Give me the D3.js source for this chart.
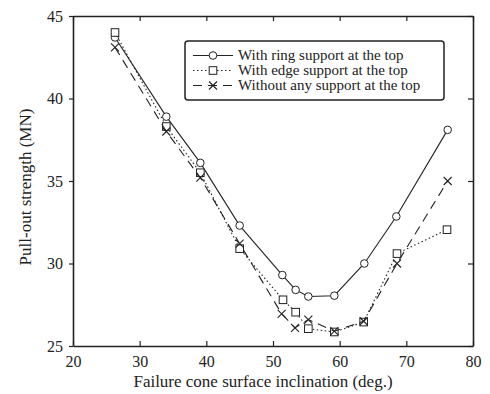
<!DOCTYPE html>
<html>
<head>
<meta charset="utf-8">
<script src="https://cdn.jsdelivr.net/npm/d3@7"></script>
<style>
  body { margin: 0; background: #fff; }
  text { font-family: "Liberation Serif", "DejaVu Serif", serif; fill: #222; }
</style>
</head>
<body>
<div id="content"></div>
<script>
var width = 490, height = 394;

// data
var ringX = [26.3, 34.0, 39.1, 45.0, 51.4, 53.4, 55.3, 59.2, 63.7, 68.5, 76.2];
var ringY = [43.7, 38.9, 36.1, 32.3, 29.3, 28.4, 28.0, 28.05, 30.0, 32.85, 38.1];
var edgeX = [26.3, 34.0, 39.1, 45.0, 51.5, 53.4, 55.3, 59.2, 63.6, 68.6, 76.1];
var edgeY = [44.0, 38.3, 35.5, 30.9, 27.8, 27.05, 26.05, 25.85, 26.45, 30.6, 32.05];
var noneX = [26.3, 34.0, 39.1, 45.0, 51.3, 53.3, 55.3, 59.2, 63.6, 68.6, 76.2];
var noneY = [43.1, 38.0, 35.2, 31.2, 26.95, 26.1, 26.6, 25.9, 26.5, 30.0, 35.0];
var xTicks = [20, 30, 40, 50, 60, 70, 80];
var yTicks = [25, 30, 35, 40, 45];
var seriesNames = ["With ring support at the top", "With edge support at the top", "Without any support at the top"];

var series = [
  { name: seriesNames[0], xs: ringX, ys: ringY, dash: null, marker: "circle" },
  { name: seriesNames[1], xs: edgeX, ys: edgeY, dash: "1.5,2.5", marker: "square" },
  { name: seriesNames[2], xs: noneX, ys: noneY, dash: "9,6", marker: "cross" }
];

var m = { left: 73, right: 17, top: 16, bottom: 48 };
var x = d3.scaleLinear().domain([20, 80]).range([m.left, width - m.right]);
var y = d3.scaleLinear().domain([25, 45]).range([height - m.bottom, m.top]);

var svg = d3.select('#content').append('svg').attr('width', width).attr('height', height);
var ink = '#222';

// axes
var axBottom = svg.append('g').attr('transform', 'translate(0,' + y(25) + ')')
  .call(d3.axisBottom(x).tickValues(xTicks).tickSizeInner(-5).tickSizeOuter(0).tickPadding(10));
var axTop = svg.append('g').attr('transform', 'translate(0,' + y(45) + ')')
  .call(d3.axisTop(x).tickValues(xTicks).tickSizeInner(-5).tickSizeOuter(0).tickFormat(''));
var axLeft = svg.append('g').attr('transform', 'translate(' + x(20) + ',0)')
  .call(d3.axisLeft(y).tickValues(yTicks).tickSizeInner(4).tickSizeOuter(0).tickPadding(6));
var axRight = svg.append('g').attr('transform', 'translate(' + x(80) + ',0)')
  .call(d3.axisRight(y).tickValues(yTicks).tickSizeInner(-5).tickSizeOuter(0).tickFormat(''));

[axBottom, axTop, axLeft, axRight].forEach(function(g){
  g.select('.domain').attr('stroke', ink).attr('stroke-width', 1.6);
  g.selectAll('.tick line').attr('stroke', ink).attr('stroke-width', 1.2);
  g.selectAll('.tick text').style('font-size', '16px').attr('fill', ink)
    .style('font-family', '"Liberation Serif", serif');
});

svg.append('text')
  .attr('x', 263).attr('y', 387)
  .style('text-anchor', 'middle').style('font-size', '17px')
  .text('Failure cone surface inclination (deg.)');

svg.append('text')
  .attr('transform', 'translate(31,' + (y(35) + 6) + ') rotate(-90)')
  .style('text-anchor', 'middle').style('font-size', '17px')
  .text('Pull-out strength (MN)');

function drawMarker(g, type, cx, cy) {
  if (type === 'circle') {
    g.append('circle').attr('cx', cx).attr('cy', cy).attr('r', 3.8)
      .attr('fill', '#fff').attr('stroke', ink).attr('stroke-width', 1);
  } else if (type === 'square') {
    g.append('rect').attr('x', cx - 3.8).attr('y', cy - 3.8).attr('width', 7.6).attr('height', 7.6)
      .attr('fill', '#fff').attr('stroke', ink).attr('stroke-width', 1);
  } else {
    g.append('path')
      .attr('d', 'M' + (cx - 4) + ',' + (cy - 4) + 'L' + (cx + 4) + ',' + (cy + 4) +
                 'M' + (cx - 4) + ',' + (cy + 4) + 'L' + (cx + 4) + ',' + (cy - 4))
      .attr('stroke', ink).attr('stroke-width', 1.1).attr('fill', 'none');
  }
}

var line = d3.line().x(function(d){ return x(d[0]); }).y(function(d){ return y(d[1]); });

series.forEach(function(s){
  var pts = s.xs.map(function(v, i){ return [v, s.ys[i]]; });
  svg.append('path').datum(pts).attr('d', line)
    .attr('fill', 'none').attr('stroke', ink).attr('stroke-width', 1.1)
    .attr('stroke-dasharray', s.dash);
  var mg = svg.append('g');
  pts.forEach(function(p){ drawMarker(mg, s.marker, x(p[0]), y(p[1])); });
});

// legend
var lg = svg.append('g');
lg.append('rect').attr('x', 185).attr('y', 41).attr('width', 259).attr('height', 59).attr('rx', 3)
  .attr('fill', '#fff').attr('stroke', ink).attr('stroke-width', 1.5);
series.forEach(function(s, i){
  var ly = 55.5 + i * 15;
  lg.append('line').attr('x1', 193).attr('x2', 233).attr('y1', ly).attr('y2', ly)
    .attr('stroke', ink).attr('stroke-width', 1.1).attr('stroke-dasharray', s.dash);
  drawMarker(lg, s.marker, 213, ly);
  lg.append('text').attr('x', 238).attr('y', ly + 4.5).style('font-size', '15px').text(s.name);
});
</script>
</body>
</html>
